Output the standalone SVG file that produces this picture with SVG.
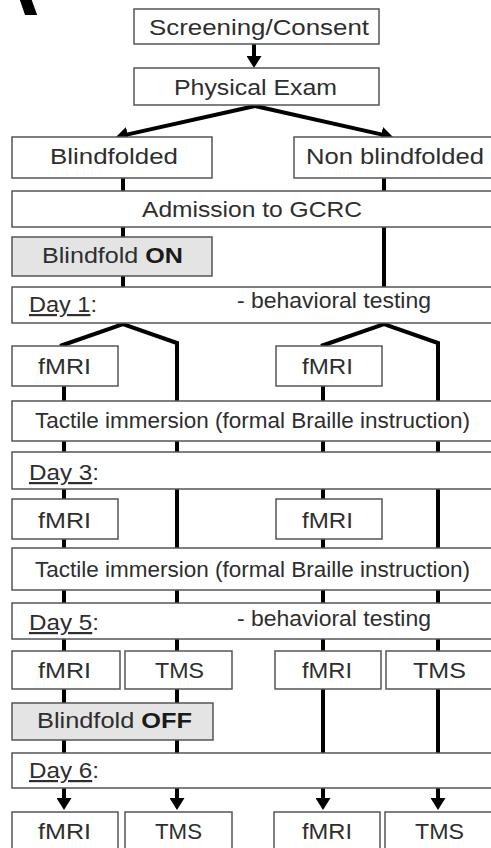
<svg xmlns="http://www.w3.org/2000/svg" width="491" height="848" viewBox="0 0 491 848">
<style>
.box{fill:#fff;stroke:#555;stroke-width:1.5}
.gray{fill:#e4e4e4}
.t{font-family:"Liberation Sans",Arial,sans-serif;font-size:22px;fill:#2e2e2e}
.b{font-weight:bold;fill:#1a1a1a}
.u{text-decoration:underline}
.c{fill:none;stroke:#000;stroke-width:4}
.lbl{font-family:"Liberation Sans",Arial,sans-serif;font-size:85px;font-weight:bold;fill:#000}
</style>
<defs>
<marker id="ah" viewBox="0 0 12 15" refX="1" refY="7.5" markerWidth="12" markerHeight="15" markerUnits="userSpaceOnUse" orient="auto">
<path d="M0,0 L12,7.5 L0,15 z" fill="#000"/>
</marker>
</defs>
<rect width="491" height="848" fill="#fff"/>
<text class="lbl" x="-22" y="15">A</text>

<g id="connectors">
<path class="c" d="M254,44 V57" marker-end="url(#ah)"/>
<path class="c" d="M255,106 L126.7,134.6" marker-end="url(#ah)"/>
<path class="c" d="M255,106 L382.3,134.6" marker-end="url(#ah)"/>
<path class="c" d="M123,178 V191 M123,227 V237 M123,276 V287"/>
<path class="c" d="M384,178 V191 M384,227 V287"/>
<path class="c" d="M60,346 L123,324 L177,343 V401"/>
<path class="c" d="M321,346 L384,324 L438,343 V401"/>
<path class="c" d="M64,386 V401 M323,386 V401"/>
<path class="c" d="M64,441 V452 M177,441 V452 M323,441 V452 M438,441 V452"/>
<path class="c" d="M64,489 V499 M323,489 V499 M177,489 V548 M438,489 V548"/>
<path class="c" d="M64,539 V548 M323,539 V548"/>
<path class="c" d="M64,590 V603 M177,590 V603 M323,590 V603 M438,590 V603"/>
<path class="c" d="M64,639 V651 M177,639 V651 M323,639 V651 M438,639 V651"/>
<path class="c" d="M64,689 V703 M177,689 V703 M323,689 V753 M438,689 V753"/>
<path class="c" d="M64,740 V753 M177,740 V753"/>
<path class="c" d="M64,788 V799" marker-end="url(#ah)"/>
<path class="c" d="M177,788 V799" marker-end="url(#ah)"/>
<path class="c" d="M323,788 V799" marker-end="url(#ah)"/>
<path class="c" d="M438,788 V799" marker-end="url(#ah)"/>
</g>

<g id="screening"><rect class="box" x="134" y="9" width="245" height="35"/><text class="t" x="149" y="35" textLength="220" lengthAdjust="spacingAndGlyphs">Screening/Consent</text></g>
<g id="physical"><rect class="box" x="134" y="68" width="245" height="37"/><text class="t" x="174" y="95" textLength="163" lengthAdjust="spacingAndGlyphs">Physical Exam</text></g>
<g id="blindfolded"><rect class="box" x="12" y="137" width="200" height="41"/><text class="t" x="50" y="164" textLength="128" lengthAdjust="spacingAndGlyphs">Blindfolded</text></g>
<g id="nonblindfolded"><rect class="box" x="294" y="137" width="210" height="41"/><text class="t" x="306" y="164" textLength="178" lengthAdjust="spacingAndGlyphs">Non blindfolded</text></g>
<g id="admission"><rect class="box" x="12" y="191" width="490" height="36"/><text class="t" x="142" y="217" textLength="220" lengthAdjust="spacingAndGlyphs">Admission to GCRC</text></g>
<g id="blindfold-on"><rect class="box gray" x="12" y="237" width="200" height="39"/><text class="t" x="42" y="263" textLength="141" lengthAdjust="spacingAndGlyphs">Blindfold <tspan class="b">ON</tspan></text></g>
<g id="day1"><rect class="box" x="12" y="287" width="490" height="36"/><text class="t" x="29" y="312" textLength="68" lengthAdjust="spacingAndGlyphs"><tspan class="u">Day 1</tspan>:</text><text class="t" x="237" y="308" textLength="194" lengthAdjust="spacingAndGlyphs">- behavioral testing</text></g>
<g id="fmri-1a"><rect class="box" x="12" y="346" width="106" height="40"/><text class="t" x="38" y="374" textLength="53" lengthAdjust="spacingAndGlyphs">fMRI</text></g>
<g id="fmri-1b"><rect class="box" x="276" y="346" width="106" height="40"/><text class="t" x="302" y="374" textLength="51" lengthAdjust="spacingAndGlyphs">fMRI</text></g>
<g id="tactile-1"><rect class="box" x="12" y="401" width="490" height="40"/><text class="t" x="35" y="428" textLength="435" lengthAdjust="spacingAndGlyphs">Tactile immersion (formal Braille instruction)</text></g>
<g id="day3"><rect class="box" x="12" y="452" width="490" height="37"/><text class="t" x="29" y="480" textLength="70" lengthAdjust="spacingAndGlyphs"><tspan class="u">Day 3</tspan>:</text></g>
<g id="fmri-3a"><rect class="box" x="12" y="499" width="106" height="40"/><text class="t" x="38" y="528" textLength="53" lengthAdjust="spacingAndGlyphs">fMRI</text></g>
<g id="fmri-3b"><rect class="box" x="276" y="499" width="106" height="40"/><text class="t" x="302" y="528" textLength="51" lengthAdjust="spacingAndGlyphs">fMRI</text></g>
<g id="tactile-2"><rect class="box" x="12" y="548" width="490" height="42"/><text class="t" x="35" y="577" textLength="435" lengthAdjust="spacingAndGlyphs">Tactile immersion (formal Braille instruction)</text></g>
<g id="day5"><rect class="box" x="12" y="603" width="490" height="36"/><text class="t" x="29" y="630" textLength="70" lengthAdjust="spacingAndGlyphs"><tspan class="u">Day 5</tspan>:</text><text class="t" x="237" y="626" textLength="194" lengthAdjust="spacingAndGlyphs">- behavioral testing</text></g>
<g id="fmri-5a"><rect class="box" x="12" y="651" width="108" height="38"/><text class="t" x="38" y="678" textLength="53" lengthAdjust="spacingAndGlyphs">fMRI</text></g>
<g id="tms-5a"><rect class="box" x="125" y="651" width="107" height="38"/><text class="t" x="155" y="678" textLength="49" lengthAdjust="spacingAndGlyphs">TMS</text></g>
<g id="fmri-5b"><rect class="box" x="275" y="651" width="106" height="38"/><text class="t" x="302" y="678" textLength="50" lengthAdjust="spacingAndGlyphs">fMRI</text></g>
<g id="tms-5b"><rect class="box" x="386" y="651" width="115" height="38"/><text class="t" x="413" y="678" textLength="53" lengthAdjust="spacingAndGlyphs">TMS</text></g>
<g id="blindfold-off"><rect class="box gray" x="12" y="703" width="201" height="37"/><text class="t" x="37" y="728" textLength="155" lengthAdjust="spacingAndGlyphs">Blindfold <tspan class="b">OFF</tspan></text></g>
<g id="day6"><rect class="box" x="12" y="753" width="490" height="35"/><text class="t" x="29" y="778" textLength="70" lengthAdjust="spacingAndGlyphs"><tspan class="u">Day 6</tspan>:</text></g>
<g id="fmri-6a"><rect class="box" x="12" y="812" width="106" height="50"/><text class="t" x="38" y="839" textLength="53" lengthAdjust="spacingAndGlyphs">fMRI</text></g>
<g id="tms-6a"><rect class="box" x="125" y="812" width="107" height="50"/><text class="t" x="155" y="839" textLength="47" lengthAdjust="spacingAndGlyphs">TMS</text></g>
<g id="fmri-6b"><rect class="box" x="274" y="812" width="106" height="50"/><text class="t" x="302" y="839" textLength="50" lengthAdjust="spacingAndGlyphs">fMRI</text></g>
<g id="tms-6b"><rect class="box" x="385" y="812" width="116" height="50"/><text class="t" x="415" y="839" textLength="49" lengthAdjust="spacingAndGlyphs">TMS</text></g>
</svg>
